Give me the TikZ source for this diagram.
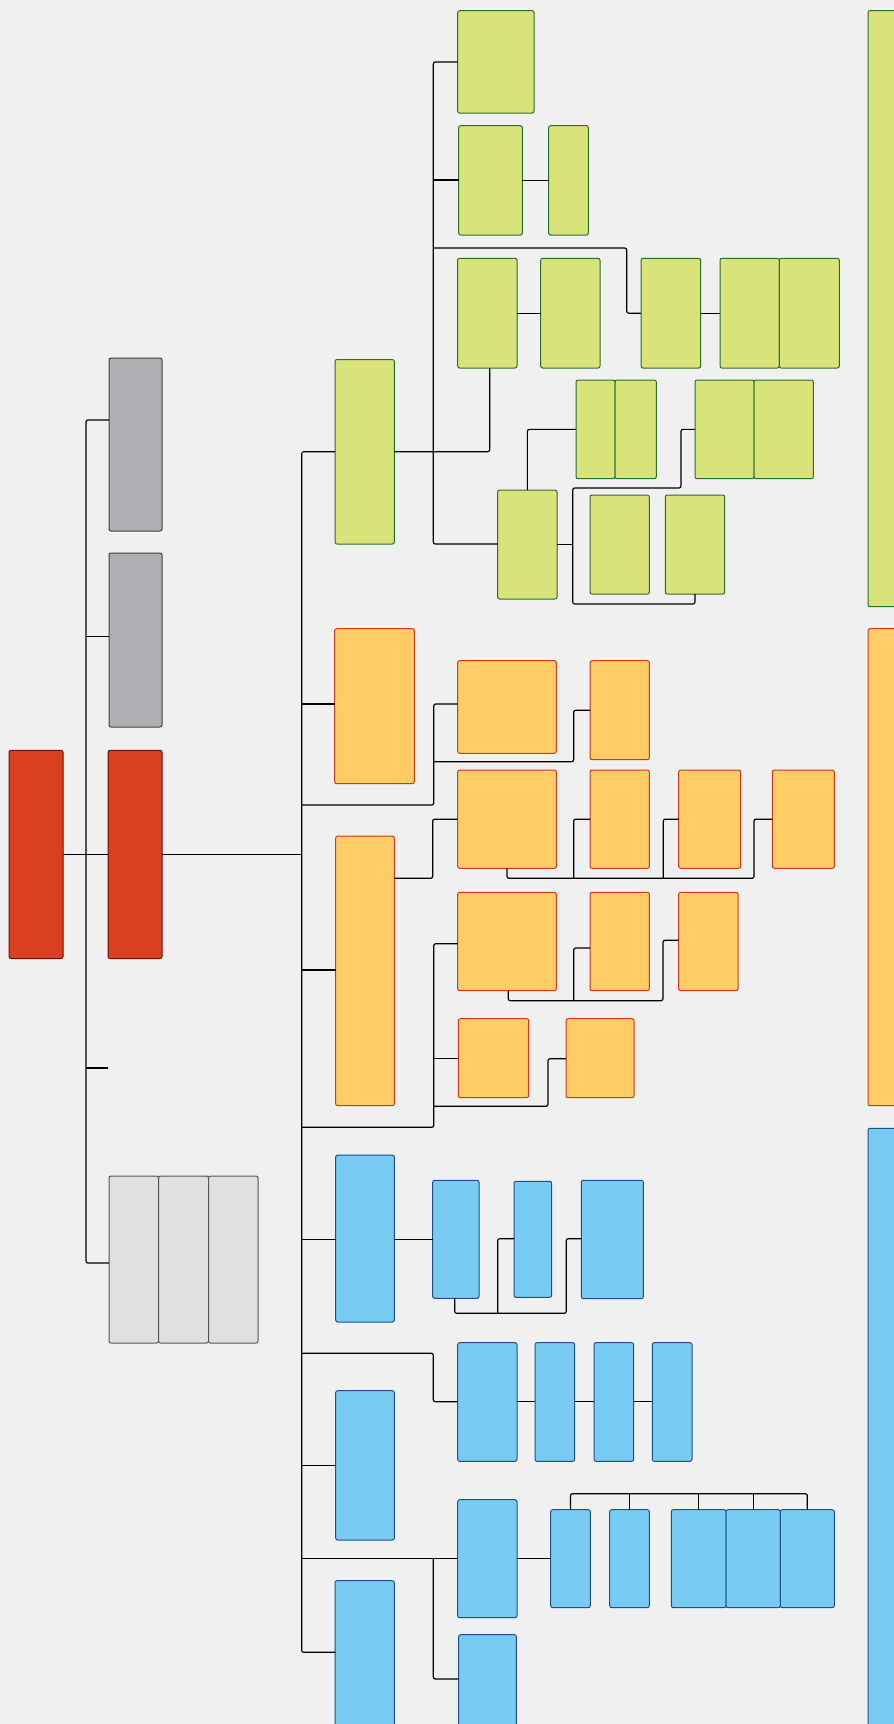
\documentclass[tikz,border=0pt]{standalone}
\usetikzlibrary{calc}
\definecolor{bgc}{HTML}{F0F0F0}
\definecolor{grF}{HTML}{D8E37A}\definecolor{grD}{HTML}{2B6E2B}
\definecolor{orF}{HTML}{FFCC66}\definecolor{orD}{HTML}{CC3A1A}
\definecolor{blF}{HTML}{78CBF3}\definecolor{blD}{HTML}{1E4F8A}
\definecolor{rdF}{HTML}{DA401F}\definecolor{rdD}{HTML}{6B0E0E}
\definecolor{gyF}{HTML}{AEAFB3}\definecolor{gyD}{HTML}{404040}
\definecolor{lgF}{HTML}{DFE0E2}\definecolor{lgD}{HTML}{555555}
\tikzset{
 box/.style={draw,rounded corners=2pt,line width=1pt,inner sep=0pt,outer sep=0pt,anchor=north west},
 gbox/.style={box,fill=grF,draw=grD},
 obox/.style={box,fill=orF,draw=orD},
 bbox/.style={box,fill=blF,draw=blD},
 rbox/.style={box,fill=rdF,draw=rdD},
 ybox/.style={box,fill=gyF,draw=gyD},
 lbox/.style={box,fill=lgF,draw=lgD},
 conn/.style={draw=black,line width=1.2pt,rounded corners=2pt}
}
\newcommand{\mybox}[6]{\node[#2,minimum width={(#5-#3)*1pt},minimum height={(#6-#4)*1pt}] (#1) at (#3,#4) {};}
\begin{document}
\begin{tikzpicture}[x=1pt,y=-1pt]
\clip (0,0) rectangle (894,1724);
\fill[bgc] (0,0) rectangle (894,1724);
% left column
\mybox{r1}{rbox}{9}{750.3}{63}{958.5}
\mybox{r2}{rbox}{108}{750.3}{162}{958.5}
\mybox{g1}{ybox}{109}{358}{162}{531}
\mybox{g2}{ybox}{109}{553}{162}{727}
\mybox{l1}{lbox}{109}{1176}{158.5}{1343}
\mybox{l2}{lbox}{158.5}{1176}{208.5}{1343}
\mybox{l3}{lbox}{208.5}{1176}{258}{1343}
% green
\mybox{gm}{gbox}{335}{359.5}{394.3}{544}
\mybox{gA}{gbox}{457.7}{10.7}{534}{113}
\mybox{gB}{gbox}{458.7}{125.7}{522.3}{235}
\mybox{gC}{gbox}{548.7}{125.7}{588.3}{235}
\mybox{gD}{gbox}{457.7}{258.3}{517}{368}
\mybox{gE}{gbox}{540.7}{258.3}{600}{368}
\mybox{gG}{gbox}{641}{258.3}{700.7}{368}
\mybox{gH1}{gbox}{720}{258.3}{779.3}{368}
\mybox{gH2}{gbox}{779.3}{258.3}{839.3}{368}
\mybox{gF1}{gbox}{576}{380}{615}{478.7}
\mybox{gF2}{gbox}{615}{380}{656.3}{478.7}
\mybox{gI1}{gbox}{695}{380}{754}{478.7}
\mybox{gI2}{gbox}{754}{380}{813.3}{478.7}
\mybox{gJ}{gbox}{497.7}{490}{557}{599}
\mybox{gK1}{gbox}{590}{495}{649.3}{594}
\mybox{gK2}{gbox}{665.3}{495}{724.7}{594}
\mybox{gR}{gbox}{868}{10.7}{910}{606.7}
% orange
\mybox{o1}{obox}{334.7}{628.7}{414.3}{783.7}
\mybox{oA}{obox}{457.7}{660.7}{556.3}{753.3}
\mybox{oB}{obox}{590}{660.7}{649.3}{759.7}
\mybox{o2}{obox}{335.7}{836}{394.3}{1105.7}
\mybox{oC}{obox}{457.7}{770}{556.3}{868.3}
\mybox{oD}{obox}{590}{770}{649.3}{868.3}
\mybox{oE}{obox}{678.7}{770}{740.7}{868.3}
\mybox{oF}{obox}{772.3}{770}{834.3}{868.3}
\mybox{oG}{obox}{457.7}{892.3}{556.3}{990.7}
\mybox{oH}{obox}{590}{892.3}{649.3}{990.7}
\mybox{oI}{obox}{678.7}{892.3}{738}{990.7}
\mybox{oJ}{obox}{458.3}{1018.7}{528.7}{1097.7}
\mybox{oK}{obox}{566}{1018.7}{634}{1097.7}
\mybox{oR}{obox}{868}{628.7}{910}{1105.7}
% blue
\mybox{b1}{bbox}{335.7}{1155}{394.3}{1322}
\mybox{bA}{bbox}{432.7}{1180.3}{479}{1298.3}
\mybox{bB}{bbox}{514}{1181.3}{551.7}{1297.3}
\mybox{bC}{bbox}{581.3}{1180.3}{643.3}{1298.7}
\mybox{bD}{bbox}{457.7}{1342.7}{517}{1461.3}
\mybox{bE}{bbox}{535}{1342.7}{574.7}{1461.3}
\mybox{bF}{bbox}{594}{1342.7}{633.7}{1461.3}
\mybox{bG}{bbox}{652.3}{1342.7}{692}{1461.3}
\mybox{b2}{bbox}{335.7}{1390.7}{394.3}{1540}
\mybox{bH}{bbox}{457.7}{1499.7}{517}{1617.7}
\mybox{bI}{bbox}{550.7}{1509.7}{590.3}{1607.7}
\mybox{bJ}{bbox}{609.7}{1509.7}{649.3}{1607.7}
\mybox{bK}{bbox}{671.3}{1509.7}{726}{1607.7}
\mybox{bL}{bbox}{726}{1509.7}{780.3}{1607.7}
\mybox{bM}{bbox}{780.3}{1509.7}{834.3}{1607.7}
\mybox{b3}{bbox}{335}{1580.7}{394.3}{1745}
\mybox{bN}{bbox}{458.7}{1634.7}{516.3}{1745}
\mybox{bR}{bbox}{868}{1128.3}{910}{1745}
% spine 1
\coordinate (s1t) at (86,420);
\coordinate (s1b) at (86,1263);
\coordinate (s1g2) at (86,636.7);
\coordinate (s1st) at (86,1068);
\coordinate (stubend) at (108,1068);
\draw[conn] (g1.west |- s1t) -- (s1t) -- (s1b) -- (l1.west |- s1b);
\draw[conn] (s1g2) -- (g2.west |- s1g2);
\draw[conn] (s1st) -- (stubend);
\draw[conn] (r1.east) -- (r2.west);
% spine 2
\coordinate (s2t) at (301.7,451.7);
\coordinate (s2b) at (301.7,1652.3);
\draw[conn] (gm.west) -- (gm.west -| s2t) -- (s2b) -- (b3.west |- s2b);
\draw[conn] (r2.east) -- (r2.east -| s2t);
% green connectors
\coordinate (s3t) at (433.3,62);
\coordinate (s3b) at (433.3,544);
\draw[conn] (gA.west |- s3t) -- (s3t) -- (s3b) -- (gJ.west |- s3b);
\coordinate (s3b1) at (433.3,180);
\draw[conn] (s3b1) -- (gB.west |- s3b1);
\draw[conn] (gB.east) -- (gC.west);
\coordinate (s3c) at (433.3,248);
\coordinate (gGk) at (626.7,248);
\draw[conn] (s3c) -- (gGk) -- (gGk |- gG.west) -- (gG.west);
\draw[conn] (gD.east) -- (gE.west);
\draw[conn] (gG.east) -- (gH1.west);
\coordinate (gmk) at (489.7,451.7);
\draw[conn] (gm.east) -- (gmk) -- (gmk |- gD.south);
\draw[conn] (gJ.north) -- (gJ.north |- gF1.west) -- (gF1.west);
\coordinate (gbt) at (572.7,488);
\coordinate (gbb) at (572.7,604);
\coordinate (gIk) at (681,488);
\draw[conn] (gJ.east) -- (gJ.east -| gbt);
\draw[conn] (gI1.west) -- (gI1.west -| gIk) -- (gIk) -- (gbt) -- (gbb) -- (gbb -| gK2.south) -- (gK2.south);
% orange connectors
\coordinate (s2o1) at (301.7,704);
\draw[conn] (s2o1) -- (o1.west |- s2o1);
\coordinate (s4b) at (301.7,805);
\coordinate (s4bb) at (433.7,805);
\coordinate (s4t) at (433.7,704);
\draw[conn] (s4b) -- (s4bb) -- (s4t) -- (oA.west |- s4t);
\coordinate (s4m) at (433.7,761.7);
\coordinate (oBk) at (573.7,761.7);
\draw[conn] (s4m) -- (oBk) -- (oBk |- oB.west) -- (oB.west);
\coordinate (o2k) at (432.7,878.3);
\draw[conn] (o2.east |- o2k) -- (o2k) -- (o2k |- oC.west) -- (oC.west);
\coordinate (oCb) at (507,878.3);
\coordinate (oFk) at (754,878.3);
\draw[conn] (oC.south) -- (oC.south |- oCb) -- (oFk) -- (oFk |- oF.west) -- (oF.west);
\coordinate (oDk) at (573.7,878.3);
\draw[conn] (oDk) -- (oDk |- oD.west) -- (oD.west);
\coordinate (oEk) at (663.3,878.3);
\draw[conn] (oEk) -- (oEk |- oE.west) -- (oE.west);
\coordinate (s2o2) at (301.7,970);
\draw[conn] (s2o2) -- (o2.west |- s2o2);
\coordinate (s5b) at (301.7,1127.3);
\coordinate (s5bb) at (433.7,1127.3);
\coordinate (s5t) at (433.7,943.7);
\draw[conn] (s5b) -- (s5bb) -- (s5t) -- (oG.west |- s5t);
\coordinate (s5m) at (433.7,1058.7);
\draw[conn] (s5m) -- (oJ.west |- s5m);
\coordinate (oGb) at (508.3,1000.7);
\coordinate (oIk) at (663,1000.7);
\coordinate (oIt) at (663,940.3);
\draw[conn] (oG.south -| oGb) -- (oGb) -- (oIk) -- (oIt) -- (oI.west |- oIt);
\coordinate (oHk) at (573.7,1000.7);
\coordinate (oHt) at (573.7,948);
\draw[conn] (oHk) -- (oHt) -- (oH.west |- oHt);
\coordinate (s5l) at (433.7,1106.3);
\coordinate (oKk) at (548,1106.3);
\coordinate (oKt) at (548,1058.7);
\draw[conn] (s5l) -- (oKk) -- (oKt) -- (oK.west |- oKt);
% blue connectors
\coordinate (s2b1) at (301.7,1239.3);
\draw[conn] (s2b1) -- (b1.west |- s2b1);
\draw[conn] (b1.east |- s2b1) -- (bA.west |- s2b1);
\coordinate (bAb) at (454.7,1313.3);
\coordinate (bCk) at (566.3,1313.3);
\coordinate (bCt) at (566.3,1238.7);
\draw[conn] (bA.south -| bAb) -- (bAb) -- (bCk) -- (bCt) -- (bC.west |- bCt);
\coordinate (bBk) at (497.7,1313.3);
\coordinate (bBt) at (497.7,1238.7);
\draw[conn] (bBk) -- (bBt) -- (bB.west |- bBt);
\coordinate (s2bD) at (301.7,1353.3);
\coordinate (bDk1) at (433.3,1353.3);
\coordinate (bDk2) at (433.3,1401.7);
\draw[conn] (s2bD) -- (bDk1) -- (bDk2) -- (bD.west |- bDk2);
\draw[conn] (bD.east |- bDk2) -- (bE.west |- bDk2);
\draw[conn] (bE.east |- bDk2) -- (bF.west |- bDk2);
\draw[conn] (bF.east |- bDk2) -- (bG.west |- bDk2);
\coordinate (s2b2) at (301.7,1465.3);
\draw[conn] (s2b2) -- (b2.west |- s2b2);
\coordinate (s2bH) at (301.7,1558.7);
\coordinate (s6t) at (433.3,1558.7);
\coordinate (s6b) at (433.3,1679);
\draw[conn] (s2bH) -- (bH.west |- s2bH);
\draw[conn] (s6t) -- (s6b) -- (bN.west |- s6b);
\draw[conn] (bH.east) -- (bI.west);
\coordinate (bIt) at (570.3,1493.7);
\draw[conn] (bI.north) -- (bI.north |- bIt) -- (bM.north |- bIt) -- (bM.north);
\draw[conn] (bJ.north |- bIt) -- (bJ.north);
\draw[conn] (bK.north |- bIt) -- (bK.north);
\draw[conn] (bL.north |- bIt) -- (bL.north);
\end{tikzpicture}
\end{document}
